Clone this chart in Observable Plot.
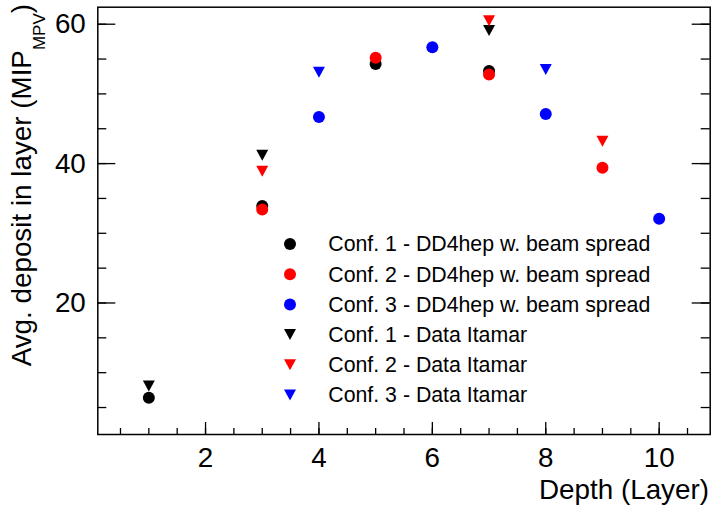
<!DOCTYPE html>
<html>
<head>
<meta charset="utf-8">
<script src="https://cdn.jsdelivr.net/npm/d3@7"></script>
<script src="https://cdn.jsdelivr.net/npm/@observablehq/plot@0.6"></script>
<style>
  html, body { margin: 0; padding: 0; background: #fff; }
  svg { display: block; }
</style>
</head>
<body>
<div id="chart"></div>
<script>
// ---- data ----
const conf1SimLayers = [1, 3, 5, 7];
const conf1SimValues = [6.4, 33.9, 54.3, 53.3];
const conf2SimLayers = [3, 5, 7, 9];
const conf2SimValues = [33.4, 55.2, 52.8, 39.4];
const conf3SimLayers = [4, 6, 8, 10];
const conf3SimValues = [46.7, 56.7, 47.1, 32.1];
const conf1DataLayers = [1, 3, 7];
const conf1DataValues = [8.1, 41.2, 59.1];
const conf2DataLayers = [3, 7, 9];
const conf2DataValues = [38.9, 60.5, 43.2];
const conf3DataLayers = [4, 8];
const conf3DataValues = [53.1, 53.5];

const seriesLabels = [
  "Conf. 1 - DD4hep w. beam spread",
  "Conf. 2 - DD4hep w. beam spread",
  "Conf. 3 - DD4hep w. beam spread",
  "Conf. 1 - Data Itamar",
  "Conf. 2 - Data Itamar",
  "Conf. 3 - Data Itamar"
];
const seriesColors = ["#000000", "#ff0000", "#0000ff", "#000000", "#ff0000", "#0000ff"];
const seriesKinds = ["circle", "circle", "circle", "triangle", "triangle", "triangle"];

const xTickValues = [2, 4, 6, 8, 10];
const yTickValues = [20, 40, 60];
const xTitle = "Depth (Layer)";
const yTitleMain = "Avg. deposit in layer (MIP";
const yTitleSub = "MPV";
const yTitleEnd = ")";

// ---- build series ----
const layerSets = [conf1SimLayers, conf2SimLayers, conf3SimLayers, conf1DataLayers, conf2DataLayers, conf3DataLayers];
const valueSets = [conf1SimValues, conf2SimValues, conf3SimValues, conf1DataValues, conf2DataValues, conf3DataValues];
const series = layerSets.map((layers, i) => layers.map((layer, j) => ({layer, value: valueSets[i][j]})));

// ---- layout ----
const W = 711, H = 505;
const mL = 97.3, mR = 1.3, mT = 6.7, mB = 71;
const frameW = W - mL - mR, frameH = H - mT - mB;
const FONT = "'Liberation Sans', Arial, Helvetica, sans-serif";

const downTriangle = {
  draw(ctx) {
    ctx.moveTo(-6, -5.5);
    ctx.lineTo(6, -5.5);
    ctx.lineTo(0, 5.5);
    ctx.closePath();
  }
};

const xMinor = d3.range(0.5, 10.75, 0.5);
const yMinor = d3.range(5, 62, 5);

const dotMarks = series.map((pts, i) =>
  Plot.dot(pts, {
    x: "layer",
    y: "value",
    r: 6,
    symbol: seriesKinds[i] === "circle" ? "circle" : downTriangle,
    fill: seriesColors[i],
    stroke: "none"
  })
);

const tickStyle = {stroke: "black", strokeWidth: 1.3};

const chart = Plot.plot({
  width: W,
  height: H,
  marginLeft: mL,
  marginRight: mR,
  marginTop: mT,
  marginBottom: mB,
  x: {domain: [0.1, 10.9]},
  y: {domain: [1.13, 62.44]},
  style: {fontFamily: FONT, background: "white", color: "black"},
  marks: [
    Plot.ruleX(xMinor, {x: d => d, insetTop: frameH - 6, ...tickStyle}),
    Plot.ruleX(xTickValues, {x: d => d, insetTop: frameH - 12, ...tickStyle}),
    Plot.ruleY(yMinor, {y: d => d, insetRight: frameW - 9, ...tickStyle}),
    Plot.ruleY(yMinor, {y: d => d, insetLeft: frameW - 9, ...tickStyle}),
    Plot.ruleY(yTickValues, {y: d => d, insetRight: frameW - 18, ...tickStyle}),
    Plot.ruleY(yTickValues, {y: d => d, insetLeft: frameW - 18, ...tickStyle}),
    Plot.frame({stroke: "black", strokeWidth: 1.5}),
    Plot.axisX(xTickValues, {tickSize: 0, tickPadding: 13, fontSize: 27.8, label: null, tickFormat: d => String(d)}),
    Plot.axisY(yTickValues, {tickSize: 0, tickPadding: 12, fontSize: 27.8, label: null, tickFormat: d => String(d)}),
    ...dotMarks
  ]
});

document.getElementById("chart").appendChild(chart);

// ---- titles and legend ----
const svg = d3.select(chart);

svg.append("text")
  .attr("x", 709)
  .attr("y", 499)
  .attr("text-anchor", "end")
  .attr("font-family", FONT)
  .attr("font-size", 27.8)
  .attr("fill", "black")
  .text(xTitle);

const yt = svg.append("text")
  .attr("transform", "translate(30.5,4) rotate(-90)")
  .attr("text-anchor", "end")
  .attr("font-family", FONT)
  .attr("font-size", 27.8)
  .attr("fill", "black");
yt.append("tspan").text(yTitleMain);
yt.append("tspan").attr("font-size", 17).attr("dy", 14.5).text(yTitleSub);
yt.append("tspan").attr("dy", -14.5).text(yTitleEnd);

const legend = svg.append("g").attr("text-anchor", "start");
const legendX = 290, legendTextX = 328.3, legendY0 = 244, legendDy = 30.2;
seriesLabels.forEach((label, i) => {
  const cy = legendY0 + i * legendDy;
  if (seriesKinds[i] === "circle") {
    legend.append("circle").attr("cx", legendX).attr("cy", cy).attr("r", 6).attr("fill", seriesColors[i]);
  } else {
    legend.append("path")
      .attr("d", `M${legendX - 6},${cy - 5.5}L${legendX + 6},${cy - 5.5}L${legendX},${cy + 5.5}Z`)
      .attr("fill", seriesColors[i]);
  }
  legend.append("text")
    .attr("x", legendTextX)
    .attr("y", cy)
    .attr("dy", "0.35em")
    .attr("text-anchor", "start")
    .attr("font-family", FONT)
    .attr("font-size", 21.3)
    .attr("fill", "black")
    .text(label);
});
</script>
</body>
</html>
